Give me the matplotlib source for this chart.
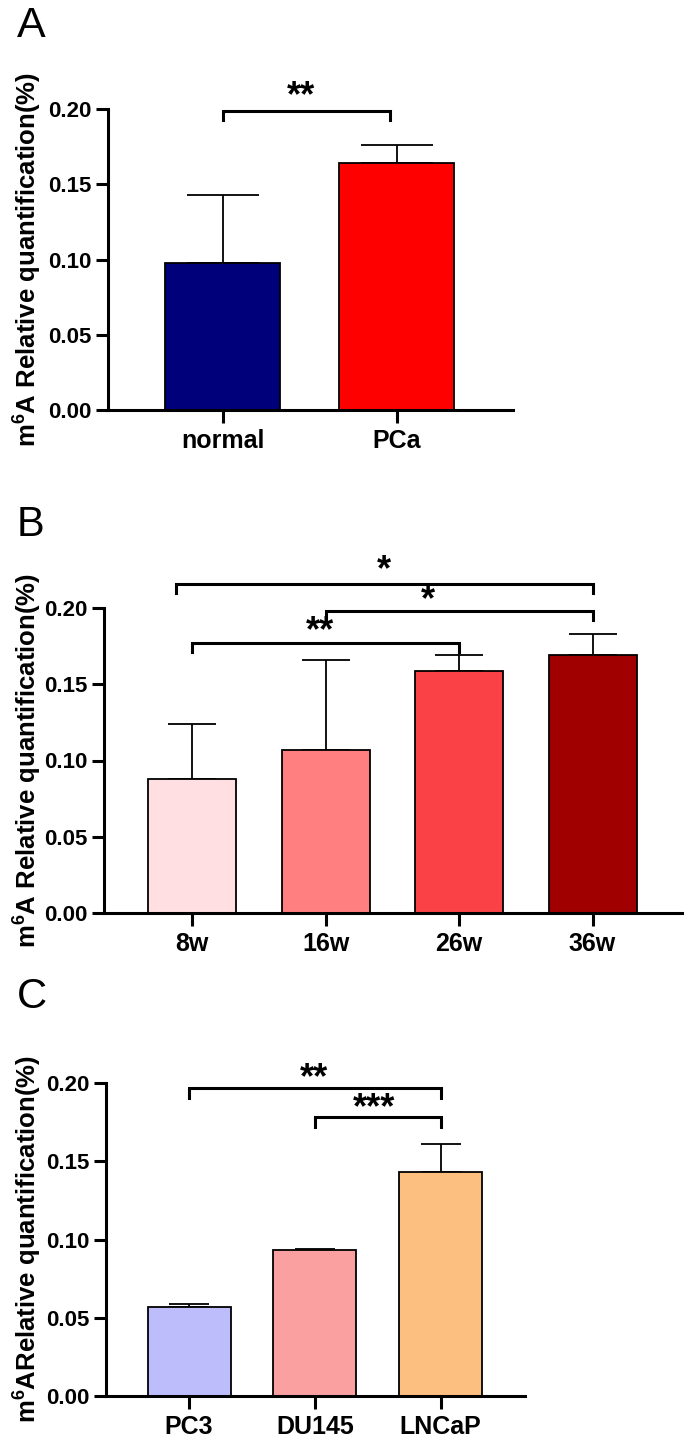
import numpy as np
import matplotlib
matplotlib.use("Agg")
import matplotlib.pyplot as plt

plt.rcParams['font.family'] = ['Liberation Sans', 'DejaVu Sans']
plt.rcParams['mathtext.fontset'] = 'custom'
plt.rcParams['mathtext.bf'] = 'Liberation Sans:bold'
plt.rcParams['mathtext.rm'] = 'Liberation Sans:bold'

# panel A
a_labels = ['normal', 'PCa']
a_vals = [0.098, 0.164]
a_err = [0.045, 0.012]
a_colors = ['#00007a', '#ff0000']

# panel B
b_labels = ['8w', '16w', '26w', '36w']
b_vals = [0.088, 0.107, 0.159, 0.169]
b_err = [0.036, 0.059, 0.010, 0.014]
b_colors = ['#ffdfe2', '#ff7f80', '#fa4246', '#a00000']

# panel C
c_labels = ['PC3', 'DU145', 'LNCaP']
c_vals = [0.057, 0.093, 0.143]
c_err = [0.002, 0.0007, 0.018]
c_colors = ['#bdbdfc', '#fba0a0', '#fdbf80']

# brackets: (x1, x2, y, stars, star_x, star_y)
a_sig = [(0, 0.96, 0.199, '**', 0.45, 0.2085)]
b_sig = [(-0.12, 3, 0.216, '*', 1.44, 0.2245),
         (1, 3, 0.198, '*', 1.77, 0.205),
         (0, 2, 0.177, '**', 0.96, 0.1845)]
c_sig = [(0, 2, 0.1966, '**', 0.99, 0.2025),
         (1, 2, 0.178, '***', 1.47, 0.1835)]

fig = plt.figure(figsize=(6.87, 14.39), dpi=100)


def panel(rect, labels, vals, err, colors, sig, capsize, ylab):
    ax = fig.add_axes(rect)
    x = np.arange(len(labels))
    ax.bar(x, vals, width=0.66, color=colors, edgecolor='black', linewidth=1.3, zorder=2)
    ax.errorbar(x, vals, yerr=[np.zeros(len(vals)), err], fmt='none', ecolor='black',
                elinewidth=1.3, capsize=capsize, capthick=1.3, zorder=1)
    ax.set_xlim(-0.66, len(labels) - 1 + 0.67)
    ax.set_ylim(0, 0.2)
    ax.set_yticks([0, 0.05, 0.10, 0.15, 0.20])
    ax.set_yticklabels(['0.00', '0.05', '0.10', '0.15', '0.20'])
    ax.set_xticks(x)
    ax.set_xticklabels(labels)
    for s in ['top', 'right']:
        ax.spines[s].set_visible(False)
    for s in ['left', 'bottom']:
        ax.spines[s].set_linewidth(2.2)
    ax.tick_params(axis='both', direction='out', length=9, width=2.2)
    ax.tick_params(axis='y', pad=3, labelsize=16)
    ax.tick_params(axis='x', pad=5, labelsize=18)
    for t in ax.get_xticklabels() + ax.get_yticklabels():
        t.set_fontweight('bold')
    ax.set_ylabel(ylab, fontsize=18.5, fontweight='bold')
    ax.yaxis.set_label_coords(-(rect[0] * 687 - 43) / (rect[2] * 687), 0.5)
    for x1, x2, y, st, sx, sy in sig:
        ax.plot([x1, x1, x2, x2], [y - 0.006, y, y, y - 0.006], color='black',
                lw=2.2, clip_on=False, solid_joinstyle='miter')
        ax.text(sx, sy, st, ha='center', va='center', fontsize=26, fontweight='bold')
    return ax


ylab1 = r'm$^{\mathbf{6}}$A Relative quantification(%)'
ylab2 = r'm$^{\mathbf{6}}$ARelative quantification(%)'

panel([108 / 687, 1 - 410 / 1439, 405 / 687, 301 / 1439], a_labels, a_vals, a_err,
      a_colors, a_sig, 26, ylab1)
panel([104 / 687, 1 - 913 / 1439, 578 / 687, 305 / 1439], b_labels, b_vals, b_err,
      b_colors, b_sig, 17.5, ylab1)
panel([106 / 687, 1 - 1396 / 1439, 419 / 687, 313 / 1439], c_labels, c_vals, c_err,
      c_colors, c_sig, 14.5, ylab2)

fig.text(17 / 687, 1 - 6 / 1439, 'A', fontsize=31, va='top', ha='left')
fig.text(17 / 687, 1 - 505 / 1439, 'B', fontsize=30, va='top', ha='left')
fig.text(17 / 687, 1 - 977 / 1439, 'C', fontsize=30, va='top', ha='left')

fig.savefig('out.png', dpi=100)
